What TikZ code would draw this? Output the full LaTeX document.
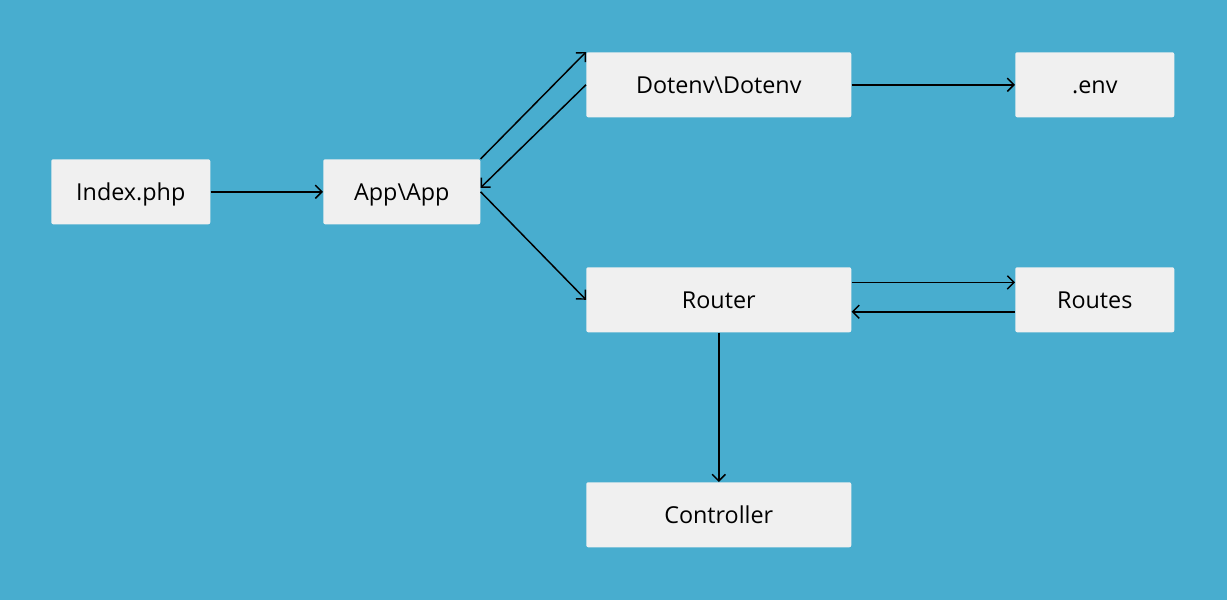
\documentclass[tikz,border=0pt]{standalone}
\usepackage{fontspec}
\setmainfont{Open Sans}
\usetikzlibrary{arrows.meta}
\definecolor{bgblue}{HTML}{48ADCF}
\definecolor{boxgray}{HTML}{F0F0F0}
\begin{document}
\begin{tikzpicture}[x=0.75pt,y=-0.75pt,
  box/.style={fill=boxgray,draw=none,rounded corners=1.5pt,anchor=north west,inner sep=0pt,
    text height=13.5pt,text depth=0pt,
    font=\fontsize{17.5}{20}\selectfont},
  conn/.style={line width=1.1pt,-{Straight Barb[length=5pt,width=10pt,line width=1.1pt]}}]
\fill[bgblue] (0,0) rectangle (1227,600);
\useasboundingbox (0,0) rectangle (1227,600);
\node[box,minimum width=159*0.75pt,minimum height=65*0.75pt] (index) at (51,159) {Index.php};
\node[box,minimum width=157*0.75pt,minimum height=65*0.75pt] (app) at (323,159) {App\textbackslash App};
\node[box,minimum width=265*0.75pt,minimum height=65*0.75pt] (dotenv) at (586,52) {Dotenv\textbackslash Dotenv};
\node[box,minimum width=159*0.75pt,minimum height=65*0.75pt] (env) at (1015,52) {.env};
\node[box,minimum width=265*0.75pt,minimum height=65*0.75pt] (router) at (586,267) {Router};
\node[box,minimum width=159*0.75pt,minimum height=65*0.75pt] (routes) at (1015,267) {Routes};
\node[box,minimum width=265*0.75pt,minimum height=65*0.75pt] (ctrl) at (586,482) {Controller};
\draw[conn] (index.east) -- (app.west);
\draw[conn] (app.north east) -- (dotenv.north west);
\draw[conn] (dotenv.west) -- ([yshift=3pt]app.east);
\draw[conn] (app.east) -- (router.west);
\draw[conn] (dotenv.east) -- (env.west);
\draw[conn] ([yshift=13pt]router.east) -- ([yshift=13pt]routes.west);
\draw[conn] ([yshift=-9pt]routes.west) -- ([yshift=-9pt]router.east);
\draw[conn] (router.south) -- (ctrl.north);
\end{tikzpicture}
\end{document}
